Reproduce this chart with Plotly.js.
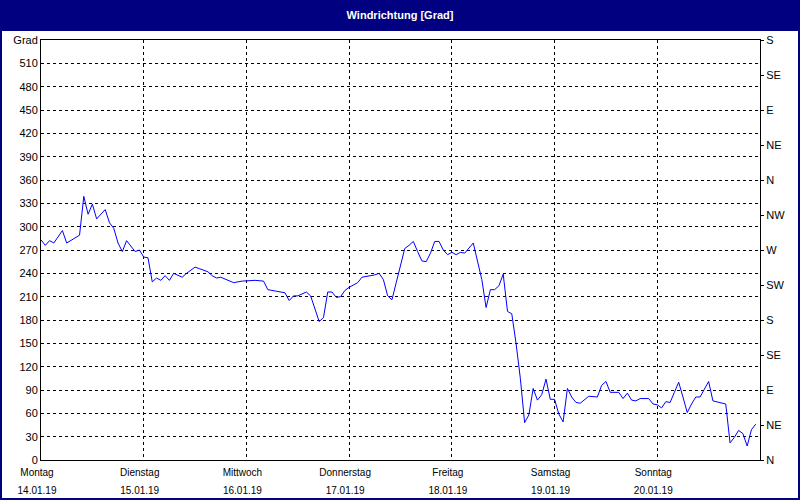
<!DOCTYPE html>
<html>
<head>
<meta charset="utf-8">
<script src="https://cdn.plot.ly/plotly-3.0.1.min.js"></script>
<style>
html,body{margin:0;padding:0;background:#ffffff;}
#chart{width:800px;height:500px;}
</style>
</head>
<body>
<div id="chart"></div>
<script>
// hour offsets from Monday 14.01.19 00:00
const hours = [0,1,2,3,5,6,9,10,11,12,13,15,16,17,18,19,20,22,23,24,25,26,27,28,29,30,31,33,34,36,37,39,40,41,42,45,47,50,52,53,55,57,58,59,60,62,63,65,66,67,68,69,70,71,72,74,75,76,78,79,80,81,82,83,84,85,86,87,88,89,90,91,92,93,94,95,96,97,98,99,101,102,103,104,105,106,107,108,109,110,111,112,113,114,115,116,117,118,119,120,121,122,123,124,125,126,128,130,131,132,133,135,136,137,138,139,140,142,143,144,145,146,147,148,149,150,151,152,153,154,155,156,157,159,160,161,162,163,164,165,166,167];
const direction = [283,276,282,279,295,279,289,339,316,329,310,322,305,298,279,268,282,268,270,261,260,229,234,231,237,231,240,235,240,248,246,242,237,234,235,228,230,231,230,219,217,215,205,211,211,216,211,178,183,216,216,209,210,218,222,228,235,236,238,240,232,211,206,228,252,272,276,281,268,256,255,266,281,281,270,264,267,264,267,266,279,254,232,196,219,219,224,239,191,188,150,105,48,58,92,77,84,104,78,78,59,49,92,81,74,73,82,81,96,101,87,87,79,86,77,76,79,79,72,71,67,75,74,87,100,81,61,72,81,81,92,101,76,73,72,22,29,38,34,18,39,46];

const dayTicks = [0,24,48,72,96,120,144];
const weekdays = ["Montag","Dienstag","Mittwoch","Donnerstag","Freitag","Samstag","Sonntag"];
const dates = ["14.01.19","15.01.19","16.01.19","17.01.19","18.01.19","19.01.19","20.01.19"];

const degTicks = [0,30,60,90,120,150,180,210,240,270,300,330,360,390,420,450,480,510,540];
const degLabels = ["0","30","60","90","120","150","180","210","240","270","300","330","360","390","420","450","480","510","Grad"];

const compassTicks = [0,45,90,135,180,225,270,315,360,405,450,495,540];
const compassLabels = ["N","NE","E","SE","S","SW","W","NW","N","NE","E","SE","S"];

const FONT = "Liberation Sans, Arial, sans-serif";
const NAVY = "#000080";

const xText = weekdays.map((w,i)=>'<span style="font-size:10px">'+w+'</span><br><span style="font-size:10px">'+dates[i]+'</span>');

const traces = [
  {x: hours, y: direction, type:'scatter', mode:'lines',
   line:{color:'#0000ff', width:1}, hoverinfo:'x+y', showlegend:false},
  {x: [], y: [], yaxis:'y2', type:'scatter', mode:'lines', showlegend:false}
];

const layout = {
  width:800, height:500,
  margin:{l:41, r:40, t:40, b:40, pad:0},
  paper_bgcolor:'#ffffff', plot_bgcolor:'#ffffff',
  font:{family:FONT, size:11, color:'#000000'},
  title:{text:'<b>Windrichtung [Grad]</b>', font:{family:FONT, size:11, color:'#ffffff'},
         xref:'container', x:0.5, xanchor:'center', yref:'container', y:0.969, yanchor:'middle'},
  showlegend:false,
  xaxis:{range:[0,168], tickmode:'array', tickvals:dayTicks, ticktext:xText,
         tickfont:{size:14, family:FONT}, ticks:'', ticklabelshift:-4, ticklabelstandoff:-2,
         showline:true, linecolor:'#000000', linewidth:1, mirror:true,
         showgrid:true, gridcolor:'#000000', gridwidth:1, griddash:'3px,3px',
         zeroline:false, fixedrange:true},
  yaxis:{range:[0,540], tickmode:'array', tickvals:degTicks, ticktext:degLabels,
         tickfont:{size:11, family:FONT}, ticks:'',
         showline:true, linecolor:'#000000', linewidth:1, mirror:true,
         showgrid:true, gridcolor:'#000000', gridwidth:1, griddash:'3px,3px',
         zeroline:false, fixedrange:true},
  yaxis2:{overlaying:'y', side:'right', range:[0,540], tickmode:'array',
          tickvals:compassTicks, ticktext:compassLabels,
          tickfont:{size:11, family:FONT}, ticks:'outside', ticklen:3, tickcolor:'#000000', tickwidth:1,
          showgrid:false, showline:false, zeroline:false, fixedrange:true},
  shapes:[
    {type:'rect', xref:'paper', yref:'paper', x0:-41/719, x1:759/719, y0:(460-31)/420, y1:460/420,
     fillcolor:NAVY, line:{width:0}, layer:'above'},
    {type:'rect', xref:'paper', yref:'paper', x0:-41/719, x1:-39/719, y0:-40/420, y1:460/420,
     fillcolor:NAVY, line:{width:0}, layer:'above'},
    {type:'rect', xref:'paper', yref:'paper', x0:757/719, x1:759/719, y0:-40/420, y1:460/420,
     fillcolor:NAVY, line:{width:0}, layer:'above'},
    {type:'rect', xref:'paper', yref:'paper', x0:-41/719, x1:759/719, y0:-40/420, y1:-38/420,
     fillcolor:NAVY, line:{width:0}, layer:'above'}
  ]
};

Plotly.newPlot('chart', traces, layout, {displayModeBar:false, staticPlot:true});
</script>
</body>
</html>
